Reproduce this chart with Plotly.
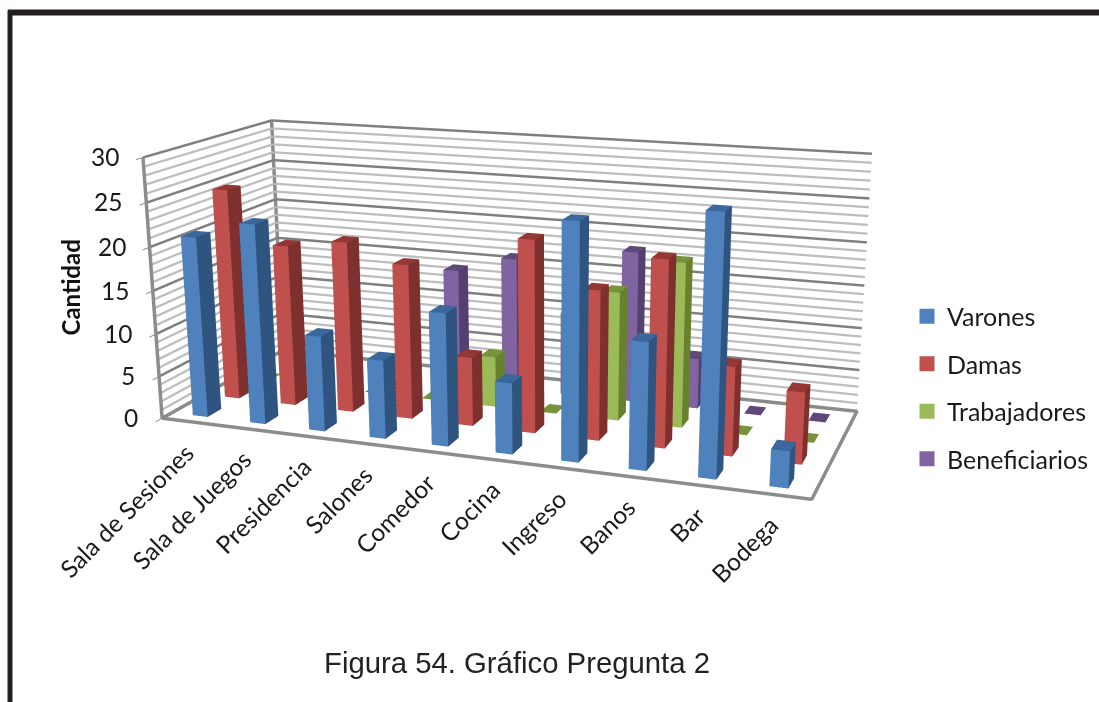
import plotly.graph_objects as go

categories = ["Sala de Sesiones","Sala de Juegos","Presidencia","Salones","Comedor","Cocina","Ingreso","Banos","Bar","Bodega"]
varones = [21,23,11,9,15,8,26,14,28,4]
damas = [25,19,20,18,8,22,17,21,10,8]
trabajadores = [0,0,0,0,6,0,15,19,0,0]
beneficiarios = [0,0,0,14,16,10,18,6,0,0]
series = [("Varones",varones,"#4F81BD","#2F5480","#3A679C"),
          ("Damas",damas,"#C0504D","#7D302E","#953735"),
          ("Trabajadores",trabajadores,"#9BBB59","#68812F","#77933C"),
          ("Beneficiarios",beneficiarios,"#8064A2","#553F70","#5F497A")]
major = [0,5,10,15,20,25,30]
minor = [v for v in range(31) if v%5]

FIG_H=1325; OFF=(FIG_H-702)/2
def py(y): return 1-(y+OFF)/FIG_H
def px(x): return x/1099

bw=0.26;bd=0.42
fig=go.Figure()
for s,(name,vals,cf,cs,ct) in enumerate(series):
    X=[];Y=[];Z=[];I=[];J_=[];K=[];F=[]
    for n,v in enumerate(vals):
        x0,x1=n+.5-bw/2,n+.5+bw/2
        y0,y1=s+.5-bd/2,s+.5+bd/2
        b=len(X)
        X+= [x0,x1,x1,x0,x0,x1,x1,x0]
        Y+= [y0,y0,y1,y1,y0,y0,y1,y1]
        Z+= [0,0,0,0,v,v,v,v]
        quads=[((0,1,5,4),cf),((1,2,6,5),cs),((4,5,6,7),ct),((3,0,4,7),cs),((2,3,7,6),cs)]
        for q,col in quads:
            I+=[b+q[0],b+q[0]];J_+=[b+q[1],b+q[2]];K+=[b+q[2],b+q[3]];F+=[col,col]
    fig.add_trace(go.Mesh3d(x=X,y=Y,z=Z,i=I,j=J_,k=K,facecolor=F,flatshading=True,hoverinfo="skip",
        lighting=dict(ambient=1,diffuse=0,specular=0,fresnel=0,roughness=1),showlegend=False))
    fig.add_trace(go.Scatter(x=[None],y=[None],mode="markers",name=name,legendgroup=name,
        marker=dict(symbol="square",size=15,color=cf)))

def wall_lines(levels):
    xs=[];ys=[];zs=[]
    for z in levels:
        xs+=[0,0,10,None];ys+=[0,4,4,None];zs+=[z,z,z,None]
    return xs,ys,zs
xs,ys,zs=wall_lines(minor)
fig.add_trace(go.Scatter3d(x=xs,y=ys,z=zs,mode="lines",line=dict(color="#bdbdbd",width=4.5),hoverinfo="skip",showlegend=False))
xs,ys,zs=wall_lines(major)
fig.add_trace(go.Scatter3d(x=xs,y=ys,z=zs,mode="lines",line=dict(color="#7f7f7f",width=5),hoverinfo="skip",showlegend=False))
fig.add_trace(go.Scatter3d(x=[0,10,10,0,0,0,None,0,0],y=[0,0,4,4,0,0,None,4,4],z=[0,0,0,0,0,30,None,0,30],mode="lines",
    line=dict(color="#8c8c8c",width=7),hoverinfo="skip",showlegend=False))

anns=[]
for n,c in enumerate(categories):
    anns.append(dict(x=n+.5,y=0,z=0,text=c,showarrow=False,textangle=-45,xanchor="right",yanchor="top",xshift=11,yshift=-13,
        font=dict(family="Lato",size=24.5,color="#1a1a1a")))
for v in major:
    anns.append(dict(x=0,y=0,z=v,text=str(v),showarrow=False,xanchor="right",yanchor="middle",xshift=-22,yshift=1,
        font=dict(family="Lato",size=24.5,color="#1a1a1a")))
ax_off=dict(showgrid=False,showticklabels=False,showline=False,zeroline=False,showbackground=False,title="",ticks="",showspikes=False)
z_ax={**ax_off,"ticks":"outside","tickvals":major,"ticklen":8,"tickcolor":"#8c8c8c","tickwidth":2}
fig.update_layout(width=1099,height=FIG_H,margin=dict(l=0,r=0,t=0,b=0),paper_bgcolor="white",plot_bgcolor="white",
    xaxis=dict(visible=False,domain=[0,.01]),yaxis=dict(visible=False,domain=[0,.01]),
    scene=dict(domain=dict(x=[0,1],y=[0,1]),
        xaxis=dict(range=[0,10],**ax_off),yaxis=dict(range=[0,4],**ax_off),zaxis=dict(range=[0,30],**z_ax),
        aspectmode="manual",aspectratio=dict(x=2.0,y=0.77,z=0.805),
        camera=dict(eye=dict(x=1.654,y=-4.369,z=1.202),center=dict(x=0.329,y=-0.587,z=0),up=dict(x=0,y=0,z=1),projection=dict(type="perspective")),
        annotations=anns),
    legend=dict(x=px(907),y=py(293),xanchor="left",yanchor="top",tracegroupgap=12,font=dict(family="Lato",size=25,color="#1a1a1a"),bgcolor="rgba(0,0,0,0)"),
    annotations=[dict(xref="paper",yref="paper",x=px(517),y=py(662),xanchor="center",yanchor="middle",text="Figura 54. Gráfico Pregunta 2",showarrow=False,font=dict(family="Liberation Sans",size=29.3,color="#222")),
        dict(xref="paper",yref="paper",x=px(70),y=py(287),xanchor="center",yanchor="middle",text="<b>Cantidad</b>",textangle=-90,showarrow=False,font=dict(family="Lato",size=24,color="#111"))],
    shapes=[dict(type="line",xref="paper",yref="paper",x0=px(8),x1=1,y0=py(12),y1=py(12),line=dict(color="#231f20",width=6)),
        dict(type="line",xref="paper",yref="paper",x0=px(10),x1=px(10),y0=py(702),y1=py(10),line=dict(color="#231f20",width=5))])
fig.write_html("out.html",config=dict(displayModeBar=False),
    post_script="var d=document.querySelector('.plotly-graph-div');document.documentElement.style.overflow='hidden';document.body.style.cssText='margin:0;overflow:hidden;height:702px';d.style.marginTop='-%.1fpx';"%OFF)
